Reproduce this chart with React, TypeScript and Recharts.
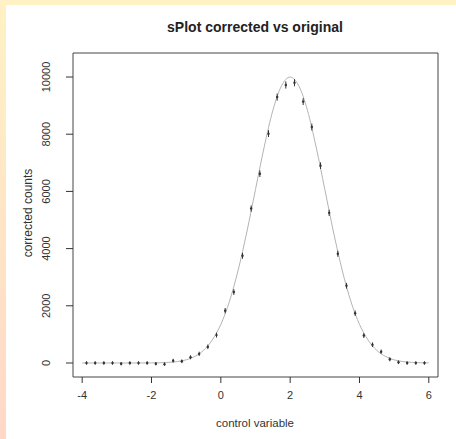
import React from "react";
import {
    ComposedChart,
    Line,
    Scatter,
    ErrorBar,
    XAxis,
    YAxis,
    ReferenceArea,
} from "recharts";

// bin centres of the histogram (width 0.25)
const binCenters = [
    -3.875, -3.625, -3.375, -3.125, -2.875, -2.625, -2.375, -2.125, -1.875, -1.625,
    -1.375, -1.125, -0.875, -0.625, -0.375, -0.125, 0.125, 0.375, 0.625, 0.875,
    1.125, 1.375, 1.625, 1.875, 2.125, 2.375, 2.625, 2.875, 3.125, 3.375,
    3.625, 3.875, 4.125, 4.375, 4.625, 4.875, 5.125, 5.375, 5.625, 5.875,
];
// corrected counts
const correctedCounts = [
    0, 0, 0, 0, -25, 0, 0, 0, -25, -40,
    80, 60, 200, 320, 565, 975, 1830, 2480, 3750, 5400,
    6620, 8020, 9300, 9720, 9800, 9140, 8250, 6900, 5250, 3820,
    2700, 1740, 960, 640, 395, 130, 25, 0, 0, 0,
];
const countErrors = [
    60, 60, 60, 60, 60, 60, 60, 60, 60, 60,
    65, 65, 70, 75, 80, 85, 95, 100, 105, 110,
    115, 120, 125, 125, 125, 120, 120, 115, 110, 105,
    100, 95, 85, 80, 75, 70, 65, 60, 60, 60,
];

// original (fitted) curve
const curveX = [
    -4, -3.75, -3.5, -3.25, -3, -2.75, -2.5, -2.25, -2, -1.75,
    -1.5, -1.25, -1, -0.75, -0.5, -0.25, 0, 0.25, 0.5, 0.75,
    1, 1.25, 1.5, 1.75, 2, 2.25, 2.5, 2.75, 3, 3.25,
    3.5, 3.75, 4, 4.25, 4.5, 4.75, 5, 5.25, 5.5, 5.75, 6,
];
const curveY = [
    0, 0, 0, 0, 0, 0, 0, 1, 3, 9,
    22, 50, 110, 230, 440, 800, 1350, 2160, 3250, 4580,
    6070, 7550, 8830, 9690, 10000, 9690, 8830, 7550, 6070, 4580,
    3250, 2160, 1350, 800, 440, 230, 110, 50, 22, 9, 3,
];

const xTicks = [-4, -2, 0, 2, 4, 6];
const yTicks = [0, 2000, 4000, 6000, 8000, 10000];

const points = binCenters.map((x, i) => ({ x, y: correctedCounts[i], err: countErrors[i] }));
const curve = curveX.map((x, i) => ({ x, y: curveY[i] }));

const FONT = "'Liberation Sans', Arial, sans-serif";
const INK = "#333";

const YTick = (props: any) => {
    const { x, y, payload } = props;
    const bx = x - 10;
    return (
        <text
            x={bx}
            y={y}
            transform={`rotate(-90, ${bx}, ${y})`}
            textAnchor="middle"
            fontSize={11}
            fontFamily={FONT}
            fill={INK}
        >
            {payload.value}
        </text>
    );
};

const Dot = (props: any) => {
    const { cx, cy } = props;
    return <circle cx={cx} cy={cy} r={1.2} fill={INK} />;
};

export default function App() {
    return (
        <div
            style={{
                position: "absolute",
                left: 0,
                top: 0,
                width: 456,
                height: 439,
                background: "linear-gradient(to bottom, #fff2c4, #ffd8c8)",
            }}
        >
            <div style={{ position: "absolute", left: 6, top: 5, right: 0, bottom: 0, background: "#fff" }} />
            <div style={{ position: "absolute", left: 0, top: 0 }}>
                <ComposedChart width={456} height={439} margin={{ top: 53, right: 18, left: 23, bottom: 32 }}>
                    <XAxis
                        type="number"
                        dataKey="x"
                        domain={[-4.265, 6.265]}
                        ticks={xTicks}
                        allowDataOverflow
                        axisLine={false}
                        tickSize={6}
                        tickMargin={8}
                        tickLine={{ stroke: INK }}
                        tick={{ fontSize: 11, fill: INK, fontFamily: FONT }}
                        height={30}
                    />
                    <YAxis
                        type="number"
                        domain={[-490, 10840]}
                        ticks={yTicks}
                        allowDataOverflow
                        axisLine={false}
                        tickSize={7}
                        tickMargin={6}
                        tickLine={{ stroke: INK }}
                        tick={<YTick />}
                        width={50}
                    />
                    <ReferenceArea
                        x1={-4.265}
                        x2={6.265}
                        y1={-490}
                        y2={10840}
                        fill="none"
                        stroke="#444"
                        strokeWidth={1}
                        ifOverflow="visible"
                    />
                    <Line
                        data={curve}
                        dataKey="y"
                        type="monotone"
                        stroke="#b4b4b4"
                        strokeWidth={1}
                        dot={false}
                        activeDot={false}
                        isAnimationActive={false}
                    />
                    <Scatter data={points} dataKey="y" shape={<Dot />} isAnimationActive={false}>
                        <ErrorBar dataKey="err" direction="y" width={0} stroke={INK} strokeWidth={1} />
                    </Scatter>
                </ComposedChart>
            </div>
            <div
                style={{
                    position: "absolute",
                    left: 0,
                    width: 510,
                    top: 19,
                    textAlign: "center",
                    fontFamily: FONT,
                    fontWeight: "bold",
                    fontSize: 14,
                    color: "#222",
                }}
            >
                sPlot corrected vs original
            </div>
            <div
                style={{
                    position: "absolute",
                    left: 0,
                    width: 510,
                    top: 417,
                    textAlign: "center",
                    fontFamily: FONT,
                    fontSize: 11.5,
                    color: INK,
                }}
            >
                control variable
            </div>
            <div
                style={{
                    position: "absolute",
                    left: 28,
                    top: 213,
                    transform: "translate(-50%, -50%) rotate(-90deg)",
                    fontFamily: FONT,
                    fontSize: 12,
                    color: INK,
                    whiteSpace: "nowrap",
                }}
            >
                corrected counts
            </div>
        </div>
    );
}
